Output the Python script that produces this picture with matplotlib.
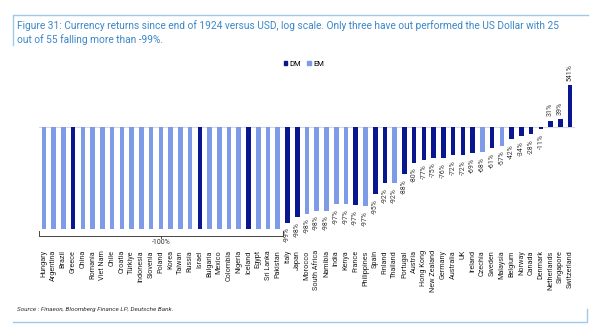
import numpy as np
import matplotlib.pyplot as plt
from matplotlib.patches import Patch
from matplotlib.lines import Line2D

plt.rcParams['font.family'] = ['Roboto', 'DejaVu Sans']

countries = [
    "Hungary", "Argentina", "Brazil", "Greece", "China", "Romania", "Viet Nam",
    "Chile", "Croatia", "Türkiye", "Indonesia", "Slovenia", "Poland", "Korea",
    "Taiwan", "Russia", "Israel", "Bulgaria", "Mexico", "Colombia", "Nigeria",
    "Iceland", "Egypt", "Sri Lanka", "Pakistan", "Italy", "Japan", "Morocco",
    "South Africa", "Namibia", "India", "Kenya", "France", "Philippines", "Spain",
    "Finland", "Thailand", "Portugal", "Austria", "Hong Kong", "New Zealand",
    "Germany", "Australia", "UK", "Ireland", "Czechia", "Sweden", "Malaysia",
    "Belgium", "Norway", "Canada", "Denmark", "Netherlands", "Singapore",
    "Switzerland",
]
group = [
    "EM", "EM", "EM", "DM", "EM", "EM", "EM", "EM", "EM", "EM", "EM", "EM",
    "EM", "EM", "EM", "EM", "DM", "EM", "EM", "EM", "EM", "DM", "EM", "EM",
    "EM", "DM", "DM", "EM", "EM", "EM", "EM", "EM", "DM", "EM", "DM", "DM",
    "EM", "DM", "DM", "DM", "DM", "DM", "DM", "DM", "DM", "EM", "DM", "EM",
    "DM", "DM", "DM", "DM", "DM", "DM", "DM",
]
# return since 1924 in %, first 25 fell more than -99% (shown as -100%)
returns = [-99.99] * 25 + [
    -98.6, -98.2, -97.9, -97.6, -97.6, -96.8, -96.8, -96.9, -97.1, -95.0,
    -92.0, -92.0, -88.0, -80.0, -77.0, -75.0, -75.6, -72.0, -71.6, -69.0,
    -68.0, -61.0, -57.0, -42.0, -34.0, -28.0, -11.0, 31.0, 39.0, 541.0,
]

DM_COL = "#0a1690"
EM_COL = "#7d9be6"
ymin = 0.0104

ratio = 1 + np.array(returns) / 100.0
ratio_clip = np.maximum(ratio, ymin)
x = np.arange(len(countries))
colors = [DM_COL if g == "DM" else EM_COL for g in group]

fig = plt.figure(figsize=(6.02, 3.27), dpi=100)
ax = fig.add_axes([39 / 602, (327 - 229.3) / 327, 536 / 602, 169.3 / 327])

ax.bar(x, ratio_clip - 1, bottom=1, width=0.47, color=colors, zorder=2)
ax.set_yscale("log")
ax.set_ylim(ymin, 19.5)
ax.set_xlim(-0.5, len(countries) - 0.5)
ax.axhline(1, color="#d9d9d9", lw=0.8, zorder=1)

for s in ax.spines.values():
    s.set_visible(False)
ax.set_yticks([])
ax.yaxis.set_minor_locator(plt.NullLocator())
ax.set_xticks(x)
ax.set_xticklabels(countries, rotation=90, fontsize=5.2, color="#222222", va="top")
ax.tick_params(axis="x", length=0, pad=15)

# data labels for the ones above -99%
for i, r in enumerate(returns):
    if i < 25:
        continue
    lab = f"{round(r):d}%"
    if r < 0:
        ax.annotate(lab, (i, ratio[i]), xytext=(0, -3.5), textcoords="offset points",
                    rotation=90, ha="center", va="top", fontsize=5, color="#333333")
    else:
        ax.annotate(lab, (i, ratio[i]), xytext=(0, 3), textcoords="offset points",
                    rotation=90, ha="center", va="bottom", fontsize=5, color="#333333")

# bracket under the 25 currencies that lost everything
trans = ax.get_xaxis_transform()
yb = -6.5 / 169.3
yt = -2.0 / 169.3
ax.add_line(Line2D([-0.5, -0.5, 24.5, 24.5], [yt, yb, yb, yt], transform=trans,
                   color="#444444", lw=0.7, clip_on=False))
ax.add_line(Line2D([12, 12], [yb, yb - 2 / 169.3], transform=trans,
                   color="#444444", lw=0.7, clip_on=False))
ax.text(12, yb - 3 / 169.3, "-100%", transform=trans, ha="center", va="top",
        fontsize=5, color="#333333")

handles = [Patch(color=DM_COL, label="DM"), Patch(color=EM_COL, label="EM")]
fig.legend(handles=handles, loc="center", bbox_to_anchor=(304 / 602, 1 - 64 / 327),
           ncol=2, frameon=False, fontsize=5.5, handlelength=0.5, handleheight=0.5,
           handletextpad=0.3, columnspacing=0.8)

# title and frame
blue = "#3a87c9"
fig.text(17 / 602, 1 - 26 / 327,
         "Figure 31: Currency returns since end of 1924 versus USD, log scale. "
         "Only three have out performed the US Dollar with 25",
         fontsize=7.3, color=blue, va="center", ha="left")
fig.text(17 / 602, 1 - 40 / 327, "out of 55 falling more than -99%.",
         fontsize=7.3, color=blue, va="center", ha="left")
fig.text(17 / 602, 1 - 310 / 327, "Source : Finaeon, Bloomberg Finance LP, Deutsche Bank.",
         fontsize=4.6, style="italic", color="#333333", va="center", ha="left")

frame = "#9fc9ec"
fig.add_artist(Line2D([13 / 602, 13 / 602, 588 / 602], [1 - 45 / 327, 1 - 15 / 327, 1 - 15 / 327],
                      transform=fig.transFigure, color=frame, lw=1.0))
fig.add_artist(Line2D([13 / 602, 587 / 602, 587 / 602], [1 - 322 / 327, 1 - 322 / 327, 1 - 309 / 327],
                      transform=fig.transFigure, color=frame, lw=1.0))

fig.savefig("out.png", dpi=100)
